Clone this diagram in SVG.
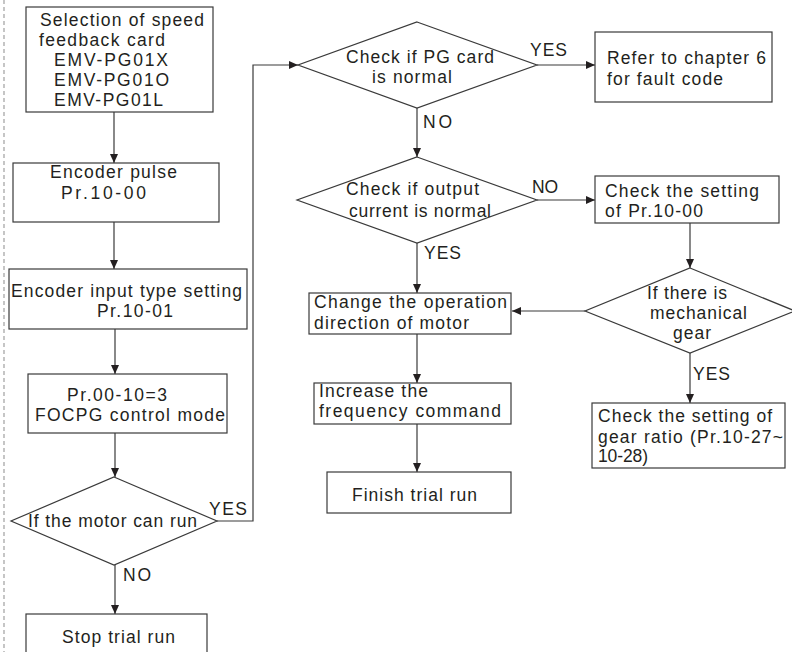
<svg xmlns="http://www.w3.org/2000/svg" width="792" height="652" viewBox="0 0 792 652">
<defs>
<marker id="arr" markerWidth="9" markerHeight="8" refX="9" refY="4" orient="auto" markerUnits="userSpaceOnUse"><path d="M0,0 L9,4 L0,8 z" fill="#231f20"/></marker>
<style>
.box{fill:#fff;stroke:#3a3a3a;stroke-width:1.2}
.t{font-family:"Liberation Sans",Arial,sans-serif;font-size:17.5px;fill:#231f20}
.c{fill:none;stroke:#3a3a3a;stroke-width:1.2}
.a{marker-end:url(#arr)}
</style>
</defs>
<rect width="792" height="652" fill="#fff"/>
<line x1="4" y1="0" x2="4" y2="652" stroke="#a0a0a0" stroke-width="1.2" stroke-dasharray="4 3"/>
<g id="connectors">
<path class="c a" d="M114,112 V163"/>
<path class="c a" d="M114,222 V269"/>
<path class="c a" d="M115,329 V374"/>
<path class="c a" d="M115,433 V477"/>
<path class="c a" d="M115,565 V614"/>
<path class="c a" d="M217,521 H253 V65 H298"/>
<path class="c a" d="M417,108 V157"/>
<path class="c a" d="M537,65 H595"/>
<path class="c a" d="M537,200 H595"/>
<path class="c a" d="M417,243 V293"/>
<path class="c a" d="M690,223 V268"/>
<path class="c a" d="M585,311 H512"/>
<path class="c a" d="M690,353 V403"/>
<path class="c a" d="M417,334 V383"/>
<path class="c a" d="M417,424 V472"/>
</g>
<g id="n_select">
<rect class="box" x="26" y="7" width="187" height="105"/>
<text class="t" x="40" y="26" textLength="164" lengthAdjust="spacing">Selection of speed</text>
<text class="t" x="39" y="46" textLength="126" lengthAdjust="spacing">feedback card</text>
<text class="t" x="54" y="66" textLength="114" lengthAdjust="spacing">EMV-PG01X</text>
<text class="t" x="54" y="86" textLength="115" lengthAdjust="spacing">EMV-PG01O</text>
<text class="t" x="54" y="106" textLength="109" lengthAdjust="spacing">EMV-PG01L</text>
</g>
<g id="n_pulse">
<rect class="box" x="13" y="163" width="206" height="59"/>
<text class="t" x="50" y="178" textLength="127" lengthAdjust="spacing">Encoder pulse</text>
<text class="t" x="61" y="199" textLength="85" lengthAdjust="spacing">Pr.10-00</text>
</g>
<g id="n_inputtype">
<rect class="box" x="9" y="269" width="238" height="60"/>
<text class="t" x="11" y="297" textLength="231" lengthAdjust="spacing">Encoder input type setting</text>
<text class="t" x="97" y="317" textLength="76" lengthAdjust="spacing">Pr.10-01</text>
</g>
<g id="n_focpg">
<rect class="box" x="28" y="374" width="199" height="59"/>
<text class="t" x="67" y="401" textLength="100" lengthAdjust="spacing">Pr.00-10=3</text>
<text class="t" x="35" y="421" textLength="190" lengthAdjust="spacing">FOCPG control mode</text>
</g>
<g id="n_canrun">
<polygon class="box" points="114,477 217,521 114,565 11,521"/>
<text class="t" x="28" y="527" textLength="169" lengthAdjust="spacing">If the motor can run</text>
<text class="t" x="209" y="515" textLength="38" lengthAdjust="spacing">YES</text>
<text class="t" x="123" y="581" textLength="28" lengthAdjust="spacing">NO</text>
</g>
<g id="n_stop">
<rect class="box" x="26" y="614" width="181" height="50"/>
<text class="t" x="62" y="643" textLength="113" lengthAdjust="spacing">Stop trial run</text>
</g>
<g id="n_pgcard">
<polygon class="box" points="417,22 537,65 417,108 298,65"/>
<text class="t" x="346" y="63" textLength="148" lengthAdjust="spacing">Check if PG card</text>
<text class="t" x="372" y="83" textLength="80" lengthAdjust="spacing">is normal</text>
<text class="t" x="530" y="56" textLength="37" lengthAdjust="spacing">YES</text>
<text class="t" x="423" y="128" textLength="29" lengthAdjust="spacing">NO</text>
</g>
<g id="n_refer">
<rect class="box" x="595" y="32" width="177" height="70"/>
<text class="t" x="607" y="64" textLength="159" lengthAdjust="spacing">Refer to chapter 6</text>
<text class="t" x="607" y="85" textLength="116" lengthAdjust="spacing">for fault code</text>
</g>
<g id="n_current">
<polygon class="box" points="417,157 537,200 417,243 297,200"/>
<text class="t" x="346" y="195" textLength="133" lengthAdjust="spacing">Check if output</text>
<text class="t" x="349" y="217" textLength="142" lengthAdjust="spacing">current is normal</text>
<text class="t" x="532" y="193" textLength="26" lengthAdjust="spacing">NO</text>
<text class="t" x="424" y="259" textLength="37" lengthAdjust="spacing">YES</text>
</g>
<g id="n_check1000">
<rect class="box" x="595" y="176" width="184" height="47"/>
<text class="t" x="605" y="197" textLength="154" lengthAdjust="spacing">Check the setting</text>
<text class="t" x="605" y="217" textLength="98" lengthAdjust="spacing">of Pr.10-00</text>
</g>
<g id="n_gear">
<polygon class="box" points="690,268 795,311 690,353 585,311"/>
<text class="t" x="647" y="299" textLength="80" lengthAdjust="spacing">If there is</text>
<text class="t" x="650" y="319" textLength="97" lengthAdjust="spacing">mechanical</text>
<text class="t" x="673" y="339" textLength="38" lengthAdjust="spacing">gear</text>
<text class="t" x="693" y="380" textLength="37" lengthAdjust="spacing">YES</text>
</g>
<g id="n_gearratio">
<rect class="box" x="592" y="403" width="193" height="65"/>
<text class="t" x="598" y="422" textLength="174" lengthAdjust="spacing">Check the setting of</text>
<text class="t" x="598" y="443" textLength="185" lengthAdjust="spacing">gear ratio (Pr.10-27~</text>
<text class="t" x="598" y="462" textLength="50" lengthAdjust="spacing">10-28)</text>
</g>
<g id="n_direction">
<rect class="box" x="309" y="293" width="202" height="41"/>
<text class="t" x="314" y="308" textLength="193" lengthAdjust="spacing">Change the operation</text>
<text class="t" x="314" y="329" textLength="155" lengthAdjust="spacing">direction of motor</text>
</g>
<g id="n_increase">
<rect class="box" x="314" y="383" width="197" height="41"/>
<text class="t" x="319" y="397" textLength="109" lengthAdjust="spacing">Increase the</text>
<text class="t" x="319" y="417" textLength="182" lengthAdjust="spacing">frequency command</text>
</g>
<g id="n_finish">
<rect class="box" x="327" y="472" width="184" height="41"/>
<text class="t" x="352" y="501" textLength="125" lengthAdjust="spacing">Finish trial run</text>
</g>
</svg>
